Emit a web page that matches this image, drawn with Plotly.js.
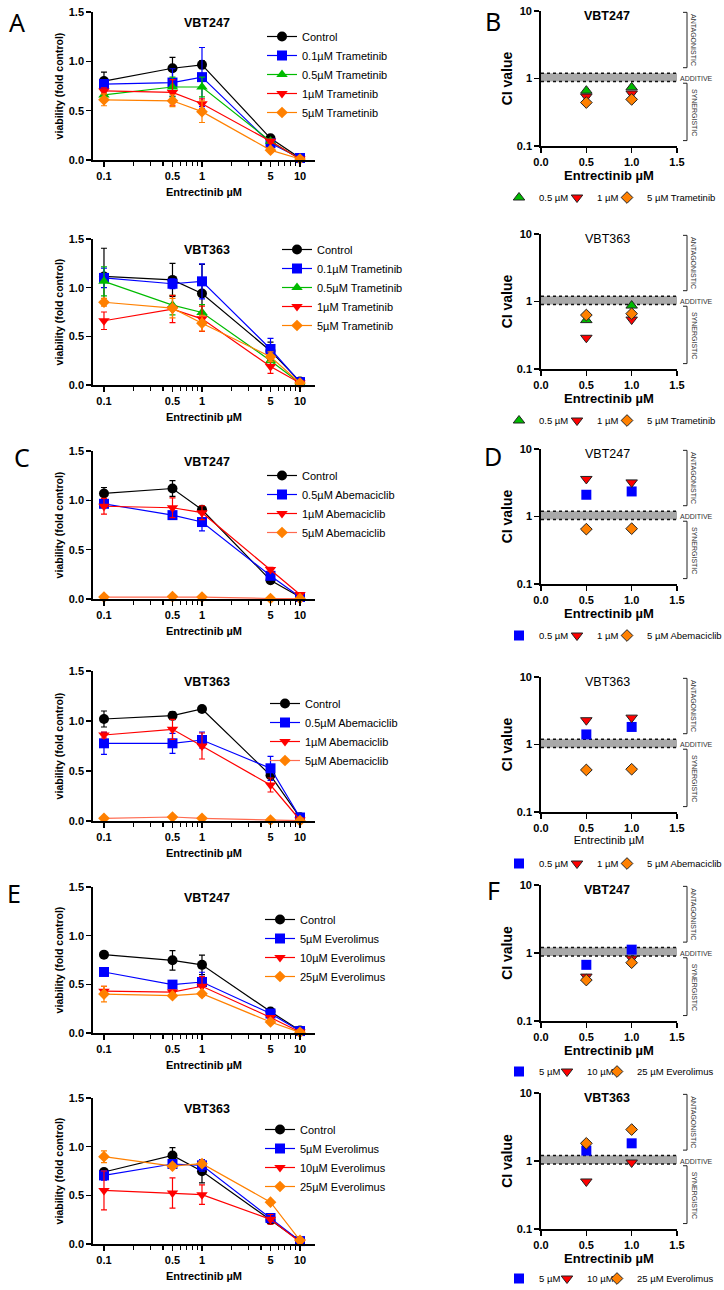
<!DOCTYPE html>
<html><head><meta charset="utf-8">
<script src="https://cdn.plot.ly/plotly-3.0.1.min.js"></script>
<style>body{margin:0;padding:0;background:#fff;overflow:hidden}#chart{width:724px;height:1290px}</style>
</head><body><div id="chart"></div>
<script>
const W = 724, H = 1290;
const FONT = 'Liberation Sans, Arial, sans-serif';

// ---------- shared x values / ticks ----------
const doses = [0.1, 0.5, 1, 5, 10];
const doseTickText = ['0.1', '0.5', '1', '5', '10'];
const minorDoseTicks = [0.2, 0.3, 0.4, 0.6, 0.7, 0.8, 0.9, 2, 3, 4, 6, 7, 8, 9];
const ciDoses = [0.5, 1.0];
const ciXTicks = [0, 0.5, 1, 1.5];
const ciXTickText = ['0.0', '0.5', '1.0', '1.5'];
const ciYTicks = [0.1, 1, 10];
const ciYTickText = ['0.1', '1', '10'];
const viaTicks = [0, 0.5, 1, 1.5];
const viaTickText = ['0.0', '0.5', '1.0', '1.5'];
const ADDITIVE_LOW = 0.9, ADDITIVE_HIGH = 1.2;

// ---------- Panel A: Trametinib ----------
const tramNames = ['Control', '0.1µM Trametinib', '0.5µM Trametinib', '1µM Trametinib', '5µM Trametinib'];
const A247_control = [0.80, 0.93, 0.965, 0.22, 0.02];
const A247_control_err = [0.09, 0.11, 0.04, 0.02, 0.01];
const A247_t01 = [0.77, 0.785, 0.84, 0.17, 0.02];
const A247_t01_err = [0.03, 0.14, 0.30, 0.02, 0.01];
const A247_t05 = [0.66, 0.74, 0.74, 0.19, 0.01];
const A247_t05_err = [0.03, 0.10, 0.10, 0.02, 0.005];
const A247_t1 = [0.70, 0.685, 0.57, 0.19, 0.01];
const A247_t1_err = [0.03, 0.13, 0.05, 0.02, 0.005];
const A247_t5 = [0.61, 0.60, 0.49, 0.10, 0.01];
const A247_t5_err = [0.06, 0.06, 0.11, 0.01, 0.005];

const A363_control = [1.115, 1.08, 0.94, 0.35, 0.035];
const A363_control_err = [0.29, 0.17, 0.30, 0.09, 0.01];
const A363_t01 = [1.10, 1.04, 1.065, 0.37, 0.03];
const A363_t01_err = [0.10, 0.05, 0.18, 0.11, 0.01];
const A363_t05 = [1.065, 0.82, 0.745, 0.25, 0.02];
const A363_t05_err = [0.15, 0.10, 0.08, 0.05, 0.01];
const A363_t1 = [0.66, 0.78, 0.68, 0.19, 0.02];
const A363_t1_err = [0.09, 0.14, 0.13, 0.07, 0.01];
const A363_t5 = [0.85, 0.79, 0.635, 0.29, 0.02];
const A363_t5_err = [0.04, 0.10, 0.08, 0.05, 0.01];

// ---------- Panel C: Abemaciclib ----------
const abemaNames = ['Control', '0.5µM Abemaciclib', '1µM Abemaciclib', '5µM Abemaciclib'];
const C247_control = [1.07, 1.12, 0.905, 0.19, 0.02];
const C247_control_err = [0.06, 0.08, 0.03, 0.02, 0.01];
const C247_a05 = [0.965, 0.85, 0.78, 0.235, 0.02];
const C247_a05_err = [0.03, 0.03, 0.09, 0.02, 0.01];
const C247_a1 = [0.94, 0.925, 0.875, 0.30, 0.045];
const C247_a1_err = [0.08, 0.10, 0.07, 0.02, 0.01];
const C247_a5 = [0.02, 0.025, 0.02, 0.005, 0.005];
const C247_a5_err = [0.005, 0.005, 0.005, 0.003, 0.003];

const C363_control = [1.02, 1.053, 1.12, 0.457, 0.037];
const C363_control_err = [0.08, 0.04, 0.03, 0.03, 0.01];
const C363_a05 = [0.777, 0.777, 0.81, 0.527, 0.035];
const C363_a05_err = [0.11, 0.10, 0.08, 0.12, 0.01];
const C363_a1 = [0.86, 0.917, 0.75, 0.36, 0.01];
const C363_a1_err = [0.03, 0.10, 0.13, 0.07, 0.005];
const C363_a5 = [0.027, 0.04, 0.027, 0.01, 0.003];
const C363_a5_err = [0.005, 0.005, 0.005, 0.003, 0.002];

// ---------- Panel E: Everolimus ----------
const everoNames = ['Control', '5µM Everolimus', '10µM Everolimus', '25µM Everolimus'];
const E247_control = [0.805, 0.747, 0.70, 0.22, 0.025];
const E247_control_err = [0.01, 0.10, 0.10, 0.02, 0.01];
const E247_e5 = [0.627, 0.497, 0.524, 0.20, 0.02];
const E247_e5_err = [0.03, 0.02, 0.10, 0.02, 0.01];
const E247_e10 = [0.43, 0.42, 0.48, 0.16, 0.01];
const E247_e10_err = [0.05, 0.02, 0.10, 0.02, 0.005];
const E247_e25 = [0.40, 0.383, 0.404, 0.113, 0.007];
const E247_e25_err = [0.08, 0.01, 0.01, 0.01, 0.005];

const E363_control = [0.74, 0.91, 0.747, 0.247, 0.03];
const E363_control_err = [0.03, 0.08, 0.12, 0.02, 0.01];
const E363_e5 = [0.705, 0.822, 0.808, 0.267, 0.03];
const E363_e5_err = [0.05, 0.04, 0.06, 0.02, 0.01];
const E363_e10 = [0.55, 0.524, 0.507, 0.253, 0.02];
const E363_e10_err = [0.20, 0.155, 0.10, 0.05, 0.01];
const E363_e25 = [0.897, 0.80, 0.825, 0.43, 0.038];
const E363_e25_err = [0.06, 0.02, 0.02, 0.01, 0.01];

// ---------- CI values (B, D, F) ----------
const B_names = ['0.5 µM', '1 µM', '5 µM Trametinib'];
const B247_ci05 = [0.66, 0.74];
const B247_ci1 = [0.54, 0.60];
const B247_ci5 = [0.44, 0.49];
const B363_ci05 = [0.53, 0.87];
const B363_ci1 = [0.29, 0.54];
const B363_ci5 = [0.63, 0.66];

const D_names = ['0.5 µM', '1 µM', '5 µM Abemaciclib'];
const D247_ci05 = [2.1, 2.35];
const D247_ci1 = [3.6, 3.2];
const D247_ci5 = [0.65, 0.66];
const D363_ci05 = [1.41, 1.82];
const D363_ci1 = [2.29, 2.5];
const D363_ci5 = [0.42, 0.43];

const F_names = ['5 µM', '10 µM', '25 µM Everolimus'];
const F247_ci5 = [0.67, 1.12];
const F247_ci10 = [0.45, 0.83];
const F247_ci25 = [0.40, 0.72];
const F363_ci5 = [1.42, 1.82];
const F363_ci10 = [0.50, 0.95];
const F363_ci25 = [1.82, 2.9];

// ---------- styles ----------
const ST = {
  black:  {color: '#000000', symbol: 'circle', size: 10},
  blue:   {color: '#0000ff', symbol: 'square', size: 10},
  green:  {color: '#00bb00', symbol: 'triangle-up', size: 10},
  red:    {color: '#ff0000', symbol: 'triangle-down', size: 10},
  orange: {color: '#ff8000', symbol: 'diamond', size: 9},
  salmon: {color: '#ff8000', symbol: 'diamond', size: 9, line: '#ff6a50'}
};

const leftPanels = [
  {title: 'VBT247', top: 12, bot: 160, legY: 36, legX: 302, series: [
    [tramNames[0], A247_control, A247_control_err, 'black'],
    [tramNames[1], A247_t01, A247_t01_err, 'blue'],
    [tramNames[2], A247_t05, A247_t05_err, 'green'],
    [tramNames[3], A247_t1, A247_t1_err, 'red'],
    [tramNames[4], A247_t5, A247_t5_err, 'orange']]},
  {title: 'VBT363', top: 239, bot: 385, legY: 249, legX: 317, series: [
    [tramNames[0], A363_control, A363_control_err, 'black'],
    [tramNames[1], A363_t01, A363_t01_err, 'blue'],
    [tramNames[2], A363_t05, A363_t05_err, 'green'],
    [tramNames[3], A363_t1, A363_t1_err, 'red'],
    [tramNames[4], A363_t5, A363_t5_err, 'orange']]},
  {title: 'VBT247', top: 451, bot: 599, legY: 475, legX: 302, series: [
    [abemaNames[0], C247_control, C247_control_err, 'black'],
    [abemaNames[1], C247_a05, C247_a05_err, 'blue'],
    [abemaNames[2], C247_a1, C247_a1_err, 'red'],
    [abemaNames[3], C247_a5, C247_a5_err, 'salmon']]},
  {title: 'VBT363', top: 671, bot: 821, legY: 703, legX: 305, series: [
    [abemaNames[0], C363_control, C363_control_err, 'black'],
    [abemaNames[1], C363_a05, C363_a05_err, 'blue'],
    [abemaNames[2], C363_a1, C363_a1_err, 'red'],
    [abemaNames[3], C363_a5, C363_a5_err, 'salmon']]},
  {title: 'VBT247', top: 887, bot: 1033, legY: 919, legX: 300, series: [
    [everoNames[0], E247_control, E247_control_err, 'black'],
    [everoNames[1], E247_e5, E247_e5_err, 'blue'],
    [everoNames[2], E247_e10, E247_e10_err, 'red'],
    [everoNames[3], E247_e25, E247_e25_err, 'orange']]},
  {title: 'VBT363', top: 1098, bot: 1244, legY: 1129, legX: 300, series: [
    [everoNames[0], E363_control, E363_control_err, 'black'],
    [everoNames[1], E363_e5, E363_e5_err, 'blue'],
    [everoNames[2], E363_e10, E363_e10_err, 'red'],
    [everoNames[3], E363_e25, E363_e25_err, 'orange']]}
];

const ciLegTextBD = [539, 597, 647];
const ciLegTextF = [539, 587, 637];
const ciPanels = [
  {title: 'VBT247', bold: true, top: 11, bot: 146, legY: 194, legT: ciLegTextBD, xtBold: true, series: [
    [B_names[0], B247_ci05, 'green'], [B_names[1], B247_ci1, 'red'], [B_names[2], B247_ci5, 'orange']]},
  {title: 'VBT363', bold: false, top: 234, bot: 369, legY: 417, legT: ciLegTextBD, xtBold: true, series: [
    [B_names[0], B363_ci05, 'green'], [B_names[1], B363_ci1, 'red'], [B_names[2], B363_ci5, 'orange']]},
  {title: 'VBT247', bold: false, top: 449, bot: 584, legY: 632, legT: ciLegTextBD, xtBold: true, series: [
    [D_names[0], D247_ci05, 'blue'], [D_names[1], D247_ci1, 'red'], [D_names[2], D247_ci5, 'orange']]},
  {title: 'VBT363', bold: false, top: 677, bot: 812, legY: 860, legT: ciLegTextBD, xtBold: false, series: [
    [D_names[0], D363_ci05, 'blue'], [D_names[1], D363_ci1, 'red'], [D_names[2], D363_ci5, 'orange']]},
  {title: 'VBT247', bold: true, top: 885, bot: 1021, legY: 1068, legT: ciLegTextF, xtBold: true, series: [
    [F_names[0], F247_ci5, 'blue'], [F_names[1], F247_ci10, 'red'], [F_names[2], F247_ci25, 'orange']]},
  {title: 'VBT363', bold: true, top: 1093, bot: 1229, legY: 1275, legT: ciLegTextF, xtBold: true, series: [
    [F_names[0], F363_ci5, 'blue'], [F_names[1], F363_ci10, 'red'], [F_names[2], F363_ci25, 'orange']]}
];

const panelLabels = [
  {t: 'A', x: 17, y: 22}, {t: 'B', x: 493, y: 21},
  {t: 'C', x: 22, y: 457}, {t: 'D', x: 493, y: 456},
  {t: 'E', x: 14, y: 893}, {t: 'F', x: 493, y: 890}
];

const traces = [];
const layout = {
  width: W, height: H, margin: {l: 0, r: 0, t: 0, b: 0, pad: 0, autoexpand: false},
  paper_bgcolor: '#ffffff', plot_bgcolor: 'rgba(0,0,0,0)',
  font: {family: FONT, color: '#000'},
  showlegend: true, annotations: [], shapes: []
};

function axSuffix(i) { return i === 1 ? '' : String(i); }
function legKey(i) { return i === 1 ? 'legend' : 'legend' + i; }

// ---------- left viability panels ----------
leftPanels.forEach((p, k) => {
  const i = k + 1, s = axSuffix(i);
  layout['xaxis' + s] = {
    domain: [93 / W, 315 / W], anchor: 'y' + s, type: 'log', range: [-1.112, 1.153],
    tickmode: 'array', tickvals: doses, ticktext: doseTickText,
    ticks: 'outside', ticklen: 5, tickwidth: 1.5, tickcolor: '#000',
    showline: true, linewidth: 1.8, linecolor: '#000', showgrid: false, zeroline: false,
    tickfont: {size: 11, weight: 'bold'},
    minor: {tickmode: 'array', tickvals: minorDoseTicks, ticks: 'outside', ticklen: 4, tickwidth: 1.2, tickcolor: '#000', showgrid: false},
    title: {text: 'Entrectinib µM', font: {size: 11, weight: 'bold'}, standoff: 7},
    automargin: false, fixedrange: true
  };
  layout['yaxis' + s] = {
    domain: [1 - p.bot / H, 1 - p.top / H], anchor: 'x' + s, range: [0, 1.5],
    tickmode: 'array', tickvals: viaTicks, ticktext: viaTickText,
    ticks: 'outside', ticklen: 5, tickwidth: 1.5, tickcolor: '#000',
    showline: true, linewidth: 1.8, linecolor: '#000', showgrid: false, zeroline: false,
    tickfont: {size: 11, weight: 'bold'},
    title: {text: 'viability (fold control)', font: {size: 10.5, weight: 'bold'}, standoff: 3},
    automargin: false, fixedrange: true
  };
  const lk = legKey(i);
  layout[lk] = {
    x: (p.legX - 40) / W, xanchor: 'left', y: 1 - (p.legY - 14) / H, yanchor: 'top',
    font: {size: 11, family: FONT}, bgcolor: 'rgba(0,0,0,0)', tracegroupgap: 0, itemwidth: 30
  };
  layout.annotations.push({
    text: p.title, xref: 'paper', yref: 'paper', x: 207 / W, y: 1 - (p.top + 11) / H,
    xanchor: 'center', yanchor: 'middle', showarrow: false, font: {size: 12.5, weight: 'bold'}
  });
  p.series.forEach((sr, j) => {
    const st = ST[sr[3]];
    traces.push({
      type: 'scatter', mode: 'lines+markers', name: sr[0], x: doses, y: sr[1],
      xaxis: 'x' + s, yaxis: 'y' + s, legend: lk,
      line: {color: st.line || st.color, width: 1.2},
      marker: {color: st.color, symbol: st.symbol, size: st.size},
      error_y: {type: 'data', array: sr[2], visible: true, color: st.line || st.color, thickness: 1.2, width: 3},
      cliponaxis: false, hoverinfo: 'x+y'
    });
  });
});

// ---------- right CI panels ----------
let legCounter = 13;
ciPanels.forEach((p, k) => {
  const i = k + 7, s = axSuffix(i);
  layout['xaxis' + s] = {
    domain: [541 / W, 677 / W], anchor: 'y' + s, range: [0, 1.5],
    tickmode: 'array', tickvals: ciXTicks, ticktext: ciXTickText,
    ticks: 'outside', ticklen: 5, tickwidth: 1.5, tickcolor: '#000',
    showline: true, linewidth: 1.8, linecolor: '#000', showgrid: false, zeroline: false,
    tickfont: {size: 11, weight: 'bold'},
    title: {text: 'Entrectinib µM', font: p.xtBold ? {size: 13, weight: 'bold'} : {size: 11}, standoff: 0},
    automargin: false, fixedrange: true
  };
  layout['yaxis' + s] = {
    domain: [1 - p.bot / H, 1 - p.top / H], anchor: 'x' + s, type: 'log', range: [-1, 1],
    tickmode: 'array', tickvals: ciYTicks, ticktext: ciYTickText,
    ticks: 'outside', ticklen: 5, tickwidth: 1.5, tickcolor: '#000',
    showline: true, linewidth: 1.8, linecolor: '#000', showgrid: false, zeroline: false,
    tickfont: {size: 11, weight: 'bold'},
    title: {text: 'CI value', font: {size: 14, weight: 'bold'}, standoff: 1},
    automargin: false, fixedrange: true
  };
  layout.annotations.push({
    text: p.title, xref: 'paper', yref: 'paper', x: 607 / W, y: 1 - (p.top + 5) / H,
    xanchor: 'center', yanchor: 'middle', showarrow: false, font: p.bold ? {size: 12.5, weight: 'bold'} : {size: 12.5}
  });
  // additive band
  traces.push({
    type: 'scatter', mode: 'lines', x: [0, 1.5, 1.5, 0, 0],
    y: [ADDITIVE_LOW, ADDITIVE_LOW, ADDITIVE_HIGH, ADDITIVE_HIGH, ADDITIVE_LOW],
    fill: 'toself', fillcolor: '#a9a9a9', line: {width: 0, color: 'rgba(0,0,0,0)'},
    xaxis: 'x' + s, yaxis: 'y' + s, showlegend: false, hoverinfo: 'skip'
  });
  traces.push({
    type: 'scatter', mode: 'lines', x: [0, 1.5, null, 0, 1.5],
    y: [ADDITIVE_HIGH, ADDITIVE_HIGH, null, ADDITIVE_LOW, ADDITIVE_LOW],
    line: {width: 1.5, color: '#111', dash: 'dot'},
    xaxis: 'x' + s, yaxis: 'y' + s, showlegend: false, hoverinfo: 'skip'
  });
  p.series.forEach((sr, j) => {
    const st = ST[sr[2]];
    const outlined = sr[2] !== 'blue';
    const lk = 'legend' + (legCounter++);
    layout[lk] = {
      x: (p.legT[j] - 40) / W, xanchor: 'left', y: 1 - (p.legY - 11) / H, yanchor: 'top',
      font: {size: 9.5, family: FONT}, bgcolor: 'rgba(0,0,0,0)', itemwidth: 30
    };
    traces.push({
      type: 'scatter', mode: 'markers', name: sr[0], x: ciDoses, y: sr[1],
      xaxis: 'x' + s, yaxis: 'y' + s, legend: lk,
      marker: {color: st.color, symbol: st.symbol, size: sr[2] === 'orange' ? 9 : 10,
               line: {width: outlined ? 1 : 0, color: '#222'}},
      cliponaxis: false, hoverinfo: 'x+y'
    });
  });
  // brackets
  const yr = 'y' + s + ' domain';
  const bx = 687 / W, bt = 683 / W;
  [[0.58, 0.99], [0.04, 0.465]].forEach(r => {
    layout.shapes.push({type: 'line', xref: 'paper', yref: yr, x0: bx, x1: bx, y0: r[0], y1: r[1], line: {color: '#222', width: 1}});
    layout.shapes.push({type: 'line', xref: 'paper', yref: yr, x0: bt, x1: bx, y0: r[0], y1: r[0], line: {color: '#222', width: 1}});
    layout.shapes.push({type: 'line', xref: 'paper', yref: yr, x0: bt, x1: bx, y0: r[1], y1: r[1], line: {color: '#222', width: 1}});
  });
  layout.annotations.push({text: 'ANTAGONISTIC', xref: 'paper', yref: yr, x: 694 / W, y: 0.785, textangle: 90,
    xanchor: 'center', yanchor: 'middle', showarrow: false, font: {size: 7, color: '#333'}});
  layout.annotations.push({text: 'SYNERGISTIC', xref: 'paper', yref: yr, x: 694 / W, y: 0.2525, textangle: 90,
    xanchor: 'center', yanchor: 'middle', showarrow: false, font: {size: 7, color: '#333'}});
  layout.annotations.push({text: 'ADDITIVE', xref: 'paper', yref: yr, x: 696 / W, y: 0.5,
    xanchor: 'center', yanchor: 'middle', showarrow: false, font: {size: 7, color: '#333'}});
});

panelLabels.forEach(l => {
  layout.annotations.push({text: l.t, xref: 'paper', yref: 'paper', x: l.x / W, y: 1 - l.y / H,
    xanchor: 'center', yanchor: 'middle', showarrow: false, font: {size: 25, family: 'Noto Sans, sans-serif'}});
});

Plotly.newPlot('chart', traces, layout, {displayModeBar: false, staticPlot: true});
</script>
</body></html>
